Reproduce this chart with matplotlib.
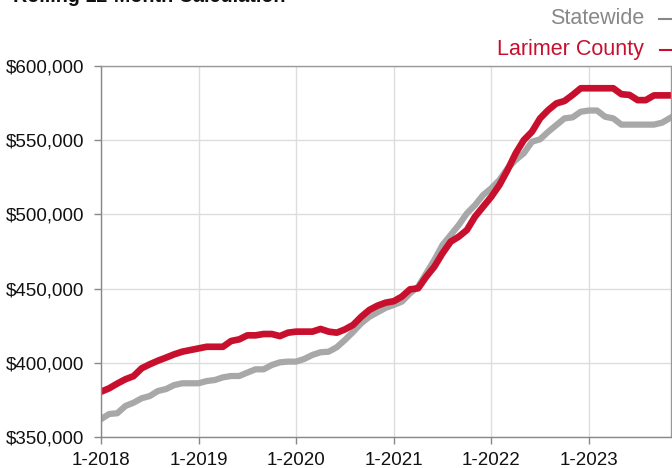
import matplotlib
matplotlib.use("Agg")
import matplotlib.pyplot as plt
from matplotlib.lines import Line2D
from matplotlib.ticker import FuncFormatter

plt.rcParams['font.family'] = ['Liberation Sans', 'DejaVu Sans']

# monthly rolling 12-month median price, Jan 2018 .. Nov 2023 (thousands)
larimer = [380.5, 382.8, 386, 388.9, 391, 396.3, 399, 401.4, 403.5, 405.7, 407.5, 408.6,
           409.7, 410.8, 410.8, 410.8, 414.7, 415.8, 418.5, 418.5, 419.4, 419.4, 418, 420.3,
           421, 421, 421, 422.8, 421, 420.3, 422.5, 425.5, 431, 435.6, 438.5, 440.5,
           441.5, 444.6, 449.5, 450.2, 458, 464.8, 473.8, 481.6, 485, 489.5, 498.5, 505.2,
           511.9, 519.8, 529.9, 541.2, 550.1, 555.7, 564.7, 570.3, 574.8, 576.4, 580.5, 585,
           585, 585, 585, 585, 581, 580.5, 577, 577, 580.2, 580.2, 580.2]
statewide = [362, 365.5, 366, 370.9, 373.1, 376.1, 377.6, 381, 382.3, 385, 386.2, 386.2,
             386.2, 387.7, 388.4, 390.2, 391.1, 391.1, 393.4, 395.6, 395.6, 398.5, 400.3, 400.8,
             400.8, 402.6, 405.3, 407.1, 407.5, 410.5, 415.4, 420.8, 426.6, 431, 434, 437,
             439, 441.2, 446.8, 451.3, 460.3, 469.3, 479.4, 486.1, 492.9, 500.7, 506.3, 513.1,
             517.6, 523.2, 531, 536.7, 541.2, 549, 550.6, 555.7, 560.2, 564.7, 565.4, 569.2,
             570, 570, 565.8, 564.7, 560.5, 560.5, 560.5, 560.5, 560.5, 561.8, 565]
year_labels = ['1-2018', '1-2019', '1-2020', '1-2021', '1-2022', '1-2023']

RED = '#C8102E'
GREY = '#A8A8A8'

months = list(range(len(larimer)))
fig = plt.figure(figsize=(6.72, 4.68), dpi=100)
ax = fig.add_axes([101 / 672, 1 - 437 / 468, 570 / 672, 371 / 468])

ax.plot(months, [v * 1000 for v in statewide], color=GREY, lw=4.5, solid_joinstyle='round')
ax.plot(months, [v * 1000 for v in larimer], color=RED, lw=4.8, solid_joinstyle='round')

ax.set_xlim(0, 70.1)
ax.set_ylim(350000, 600000)
ax.set_yticks(range(350000, 600001, 50000))
ax.yaxis.set_major_formatter(FuncFormatter(lambda v, p: '${:,.0f}'.format(v)))
ax.set_xticks([12 * i for i in range(len(year_labels))])
ax.set_xticklabels(year_labels)

ax.grid(True, color='#dddddd', lw=1)
ax.set_axisbelow(True)
for s in ax.spines.values():
    s.set_color('#999999')
    s.set_linewidth(1)
ax.spines['left'].set_color('#888888')
ax.spines['bottom'].set_color('#888888')
ax.tick_params(axis='both', colors='#888888', length=5, width=1, labelsize=13.5, labelcolor='#111111')
ax.tick_params(axis='y', pad=7)
ax.tick_params(axis='x', pad=5.5)

# title cut off at the top of the picture
fig.text(13 / 672, 1 - 2 / 468, 'Rolling 12-Month Calculation', fontsize=14.2,
         fontweight='bold', color='#111111', ha='left', va='baseline')

# legend at top right
fig.text(644 / 672, 1 - 18 / 468, 'Statewide', fontsize=15.5, color='#888888', ha='right', va='center')
fig.text(644 / 672, 1 - 49 / 468, 'Larimer County', fontsize=15.5, color=RED, ha='right', va='center')
fig.add_artist(Line2D([659 / 672, 1.02], [1 - 19 / 468] * 2, color='#888888', lw=1.5))
fig.add_artist(Line2D([660 / 672, 1.02], [1 - 50 / 468] * 2, color=RED, lw=1.5))

fig.savefig('out.png', dpi=100)
